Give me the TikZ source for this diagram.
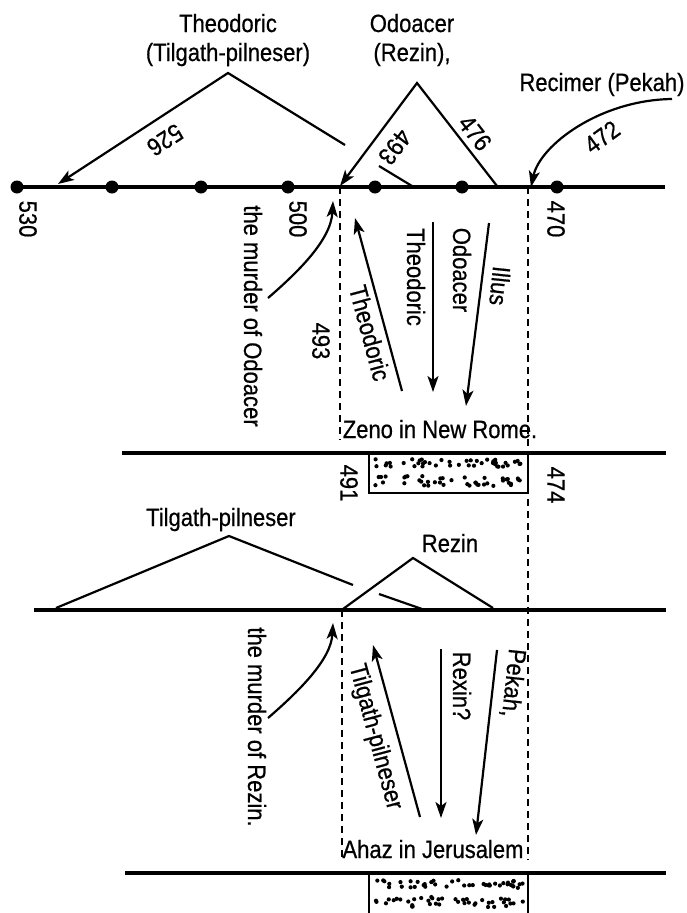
\documentclass[tikz,border=0pt]{standalone}
\usepackage{fontspec}
\setmainfont{Liberation Sans}[FakeStretch=0.88, FakeBold=0.6]
\usetikzlibrary{arrows.meta}

\begin{document}
\begin{tikzpicture}[x=1pt, y=-1pt,
  every node/.style={font=\fontsize{25}{29}\selectfont, inner sep=0pt},
  timeline/.style={line width=4pt},
  reign/.style={line width=2.2pt, line join=miter},
  arr/.style={line width=2.2pt, -{Stealth[length=16pt, width=11pt, inset=4pt]}},
  guide/.style={line width=1.6pt, dash pattern=on 7pt off 5pt},
  yeardot/.style={circle, fill, minimum size=13pt}]
  \useasboundingbox (0,0) rectangle (687,913);
  \pgfmathsetseed{4711}

  \draw[timeline] (17,187) -- (665,187);
  \foreach \yr/\x in {530/17, 520/112, 510/201, 500/288, 490/375, 480/462, 470/557}
    \node[yeardot] (d\yr) at (\x,187) {};
  \node[rotate=-90] (y530) at (28,219) {530};
  \node[rotate=-90] (y500) at (298,219) {500};
  \node[rotate=-90] (y470) at (556,219) {470};

  \node[anchor=base] (theoA) at (228,32) {Theodoric};
  \node[anchor=base] (theoB) at (228,61) {(Tilgath-pilneser)};
  \coordinate (theoTop) at (228,73);
  \coordinate (theoEnd) at (58,184);
  \coordinate (theoCut) at (345,145);
  \draw[reign, arr] (theoCut) -- (theoTop) -- (theoEnd);
  \draw[reign] (379,166) -- (412,186);
  \node[rotate=-147] (y526) at (165,140) {526};

  \node[anchor=base] (odoA) at (412,32) {Odoacer};
  \node[anchor=base] (odoB) at (412,61) {(Rezin),};
  \coordinate (odoTop) at (417,83);
  \coordinate (odoEnd) at (340,186);
  \coordinate (odoFoot) at (497,186);
  \draw[reign, arr] (odoFoot) -- (odoTop) -- (odoEnd);
  \node[rotate=-127] (y493a) at (395,147) {493};
  \node[rotate=-52] (y476) at (475,133) {476};

  \node[anchor=base] (reci) at (602,91) {Recimer (Pekah)};
  \coordinate (reciStart) at (672,99);
  \coordinate (reciEnd) at (531,187);
  \draw[arr] (reciStart) .. controls (600,100) and (540,145) .. (reciEnd);
  \node[rotate=36] (y472) at (602,137) {472};

  \draw[guide] (340,187) -- (340,440);
  \draw[guide] (528,187) -- (528,860);

  \node[rotate=-90] (murderO) at (253,316) {the murder of Odoacer};
  \coordinate (murderOa) at (268,298);
  \coordinate (murderOb) at (333,201);
  \draw[arr] (murderOa) .. controls (298,272) and (331,240) .. (murderOb);
  \node[rotate=-90] (y493b) at (321,341) {493};

  \coordinate (upTa) at (402,391);
  \coordinate (upTb) at (355,218);
  \draw[arr] (upTa) -- (upTb);
  \node[rotate=-75] (upT) at (370,333) {Theodoric};
  \coordinate (dnTa) at (433,222);
  \coordinate (dnTb) at (433,392);
  \draw[arr] (dnTa) -- (dnTb);
  \node[rotate=-90] (dnT) at (416,277) {Theodoric};
  \node[rotate=-90] (dnO) at (462,270) {Odoacer};
  \coordinate (illA) at (489,223);
  \coordinate (illB) at (466,406);
  \draw[arr] (illA) -- (illB);
  \node[rotate=-96] (ill) at (500,286) {Illus};

  \node[anchor=base] (zeno) at (440,438) {Zeno in New Rome.};
  \draw[timeline] (122,453) -- (666,453);
  \draw[line width=2pt] (369,453) rectangle (528,493);
  \foreach \i in {1,...,42} {
    \pgfmathsetmacro\sx{375+148*rnd}
    \pgfmathsetmacro\sy{459+8*rnd}
    \fill (\sx,\sy) circle[radius=2.1];
    \pgfmathsetmacro\sx{375+148*rnd}
    \pgfmathsetmacro\sy{476+10*rnd}
    \fill (\sx,\sy) circle[radius=2.1];
  }
  \node[rotate=-90] (y491) at (349,483) {491};
  \node[rotate=-90] (y474) at (556,485) {474};

  \node[anchor=base] (tilg) at (221,526) {Tilgath-pilneser};
  \draw[timeline] (34,610) -- (666,610);
  \draw[reign] (56,608) -- (229,536) -- (353,585);
  \draw[reign] (379,594) -- (422,609);
  \node[anchor=base] (rezin) at (450,552) {Rezin};
  \draw[reign] (343,609) -- (413,558) -- (493,608);

  \draw[guide] (342,610) -- (342,860);

  \node[rotate=-90] (murderR) at (257,727) {the murder of Rezin.};
  \coordinate (murderRa) at (268,718);
  \coordinate (murderRb) at (333,623);
  \draw[arr] (murderRa) .. controls (298,692) and (331,660) .. (murderRb);

  \coordinate (upTPa) at (420,817);
  \coordinate (upTPb) at (373,645);
  \draw[arr] (upTPa) -- (upTPb);
  \node[rotate=-75] (upTP) at (375,737) {Tilgath-pilneser};
  \coordinate (rexA) at (441,649);
  \coordinate (rexB) at (441,818);
  \draw[arr] (rexA) -- (rexB);
  \node[rotate=-90] (rex) at (462,686) {Rexin?};
  \coordinate (pekA) at (497,650);
  \coordinate (pekB) at (476,835);
  \draw[arr] (pekA) -- (pekB);
  \node[rotate=-96] (pek) at (513,683) {Pekah,};

  \node[anchor=base] (ahaz) at (433,858) {Ahaz in Jerusalem};
  \draw[timeline] (125,873) -- (666,873);
  \draw[line width=2pt] (369,873) rectangle (528,930);
  \foreach \i in {1,...,42} {
    \pgfmathsetmacro\sx{375+148*rnd}
    \pgfmathsetmacro\sy{880+8*rnd}
    \fill (\sx,\sy) circle[radius=2.1];
    \pgfmathsetmacro\sx{375+148*rnd}
    \pgfmathsetmacro\sy{897+10*rnd}
    \fill (\sx,\sy) circle[radius=2.1];
  }
\end{tikzpicture}
\end{document}
